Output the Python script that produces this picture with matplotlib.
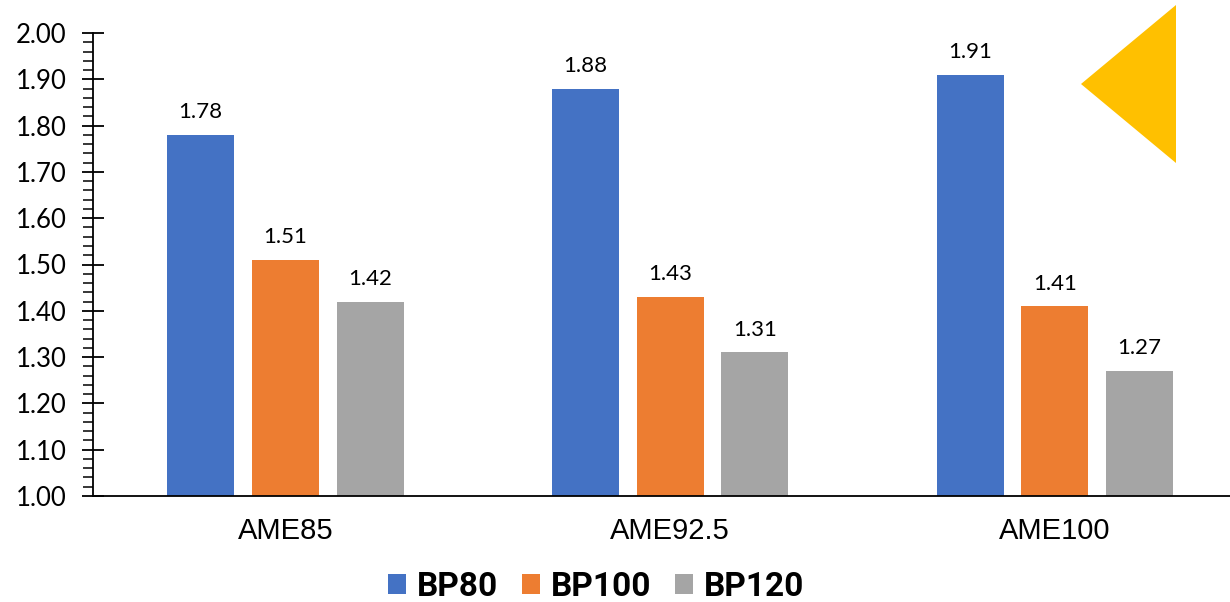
import matplotlib
matplotlib.use("Agg")
import matplotlib.pyplot as plt
import numpy as np
from matplotlib.patches import Polygon
from matplotlib.ticker import MultipleLocator

categories = ["AME85", "AME92.5", "AME100"]
series_names = ["BP80", "BP100", "BP120"]
bp80 = [1.78, 1.88, 1.91]
bp100 = [1.51, 1.43, 1.41]
bp120 = [1.42, 1.31, 1.27]
colors = ["#4472C4", "#ED7D31", "#A5A5A5"]
ytick_values = [1.00, 1.10, 1.20, 1.30, 1.40, 1.50, 1.60, 1.70, 1.80, 1.90, 2.00]

W, H = 1230, 602
fig = plt.figure(figsize=(W / 100, H / 100), dpi=100)
ax = fig.add_axes([93 / W, 1 - 496 / H, (1230 - 93) / W, (496 - 33) / H])

x = np.arange(len(categories))
width = 0.174
offset = 0.22
for i, (vals, col, name) in enumerate(zip([bp80, bp100, bp120], colors, series_names)):
    pos = x + (i - 1) * offset
    ax.bar(pos, np.array(vals) - 1.0, width, bottom=1.0, color=col, label=name)
    for p, v in zip(pos, vals):
        ax.annotate(f"{v:.2f}", (p, v), xytext=(0, 9), textcoords="offset points",
                    ha="center", va="bottom", fontsize=16, family="Lato",
                    color="#000000")

ax.set_ylim(1.0, 2.0)
ax.set_xlim(-0.5, 2.455)
ax.yaxis.set_minor_locator(MultipleLocator(0.02))
ax.set_yticks(ytick_values)
ax.set_yticklabels([f"{v:.2f}" for v in ytick_values], family="Lato", fontsize=18.5)
ax.tick_params(axis="y", which="major", direction="inout", length=16, width=1.3,
               pad=11, colors="black")
ax.tick_params(axis="y", which="minor", direction="out", length=7, width=1.1)
ax.set_xticks(x)
ax.set_xticklabels(categories, family="Liberation Sans", fontsize=21)
ax.tick_params(axis="x", length=0, pad=15)

for s in ["top", "right"]:
    ax.spines[s].set_visible(False)
ax.spines["left"].set_linewidth(1.3)
ax.spines["bottom"].set_linewidth(1.3)

handles, labels = ax.get_legend_handles_labels()
fig.legend(handles, labels, loc="center", bbox_to_anchor=(596 / W, 1 - 587 / H),
           ncol=3, frameon=False, handlelength=0.55, handleheight=0.55,
           handletextpad=0.33, columnspacing=0.7, borderpad=0, borderaxespad=0,
           prop={"family": "Roboto", "weight": "bold", "size": 24})

# Decorative marker in the upper-right corner
tri = Polygon([[1081 / W, 1 - 84 / H], [1176 / W, 1 - 5 / H], [1176 / W, 1 - 163 / H]],
              closed=True, transform=fig.transFigure, facecolor="#FFC000",
              edgecolor="none")
fig.patches.append(tri)

fig.savefig("out.png", dpi=100, facecolor="white")
